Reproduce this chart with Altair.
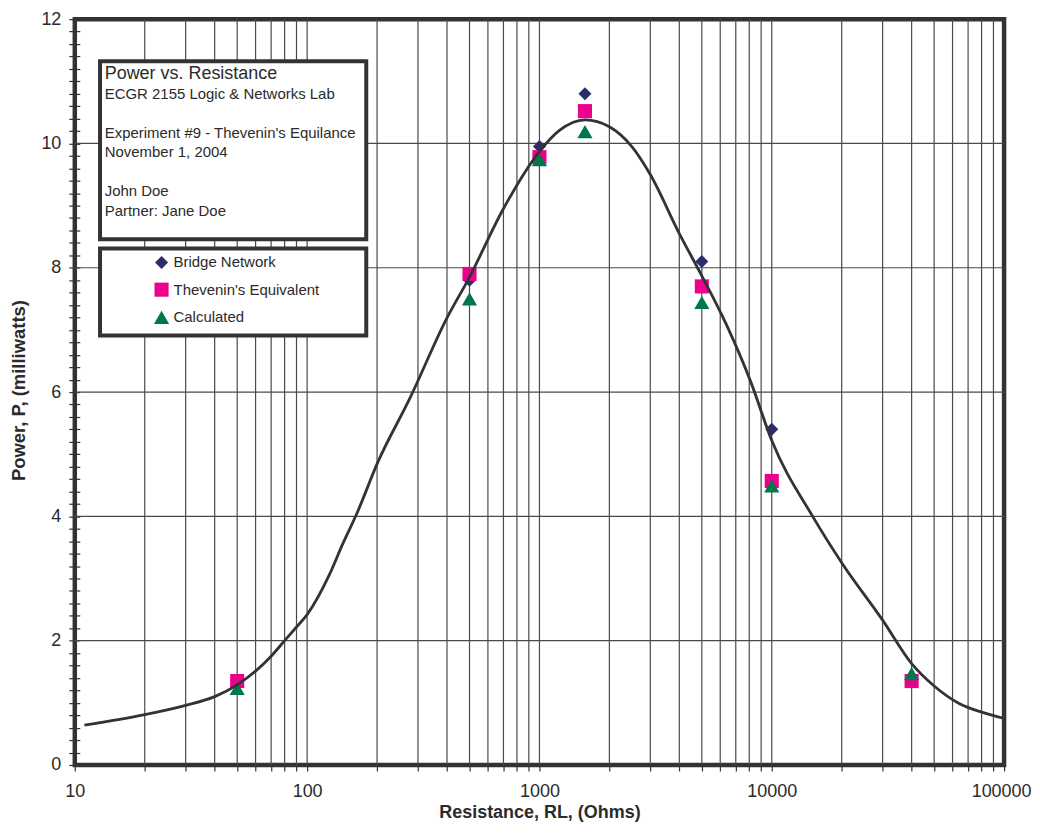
import altair as alt
import pandas as pd

# ---------------- data ----------------
resistance = [50, 500, 1000, 1570, 5000, 10000, 40000]
bridge_network = [1.30, 7.80, 9.95, 10.80, 8.10, 5.40, 1.40]
thevenin_equiv = [1.35, 7.90, 9.78, 10.52, 7.70, 4.57, 1.35]
calculated = [1.23, 7.50, 9.74, 10.19, 7.44, 4.49, 1.47]

series_names = ["Bridge Network", "Thevenin's Equivalent", "Calculated"]
series_colors = ["#2E2D6B", "#EC008C", "#00774A"]
series_shapes = ["diamond", "square", "triangle-up"]
series_sizes = [170, 230, 250]

curve_r = [11, 20, 30, 40, 50, 60, 70, 80, 90, 100, 125, 142, 163, 202, 276, 397,
           500, 695, 1000, 1219, 1572, 2000, 2500, 3000, 4000, 5000, 6350, 8130, 10000,
           15000, 20200, 30000, 40000, 50000, 64000, 80000, 100000]
curve_p = [0.64, 0.81, 0.96, 1.10, 1.29, 1.51, 1.75, 2.00, 2.22, 2.42, 3.07, 3.55,
           4.03, 4.88, 5.89, 7.17, 7.85, 8.93, 9.87, 10.21, 10.38, 10.27, 9.95, 9.50,
           8.55, 7.87, 7.10, 6.16, 5.22, 4.00, 3.23, 2.33, 1.63, 1.27, 0.99, 0.85, 0.75]

x_ticks = [10, 20, 30, 40, 50, 60, 70, 80, 90,
           100, 200, 300, 400, 500, 600, 700, 800, 900,
           1000, 2000, 3000, 4000, 5000, 6000, 7000, 8000, 9000,
           10000, 20000, 30000, 40000, 50000, 60000, 70000, 80000, 90000, 100000]
x_labels = [10, 100, 1000, 10000, 100000]
x_grid = [v for v in x_ticks if v not in (10, 100000)]
y_ticks = [0, 0.2, 0.4, 0.6, 0.8, 1, 1.2, 1.4, 1.6, 1.8, 2, 2.2, 2.4, 2.6, 2.8, 3,
           3.2, 3.4, 3.6, 3.8, 4, 4.2, 4.4, 4.6, 4.8, 5, 5.2, 5.4, 5.6, 5.8, 6,
           6.2, 6.4, 6.6, 6.8, 7, 7.2, 7.4, 7.6, 7.8, 8, 8.2, 8.4, 8.6, 8.8, 9,
           9.2, 9.4, 9.6, 9.8, 10, 10.2, 10.4, 10.6, 10.8, 11, 11.2, 11.4, 11.6, 11.8, 12]
y_grid = [2, 4, 6, 8, 10]

x_title = "Resistance, RL, (Ohms)"
y_title = "Power, P, (milliwatts)"
info_title = "Power vs. Resistance"
info_lines = ["ECGR 2155 Logic & Networks Lab", "",
              "Experiment #9 - Thevenin's Equilance", "November 1, 2004", "",
              "John Doe", "Partner: Jane Doe"]

FONT = "Liberation Sans"
INK = "#2b2b2b"

# ---------------- tables ----------------
pts = pd.DataFrame({
    "R": resistance * 3,
    "P": bridge_network + thevenin_equiv + calculated,
    "Series": [series_names[0]] * len(resistance)
              + [series_names[1]] * len(resistance)
              + [series_names[2]] * len(resistance),
})
curve = pd.DataFrame({"R": curve_r, "P": curve_p})
xg = pd.DataFrame({"R": x_grid})
yg = pd.DataFrame({"P": y_grid})

# ---------------- scales / axes ----------------
xs = alt.Scale(type="log", domain=[10, 100000], nice=False)
ys = alt.Scale(domain=[0, 12], nice=False, zero=True)

label_list = "[" + ",".join(str(v) for v in x_labels) + "]"
x_axis = alt.Axis(
    values=x_ticks,
    labelExpr=f"indexof({label_list}, datum.value) >= 0 ? format(datum.value, 'd') : ''",
    grid=False, domain=False,
    tickSize=6, tickColor="#333333", tickWidth=1.2,
    labelFont=FONT, labelFontSize=18, labelColor=INK,
    labelBaseline="alphabetic", labelPadding=26,
    labelOffset={"condition": {"test": "datum.value == 100000", "value": -3}, "value": 0},
    labelOverlap=False, labelFlush=False, labelBound=False,
    titleFont=FONT, titleFontSize=18, titleFontWeight="bold", titleColor=INK,
    titleBaseline="alphabetic", titleY=53,
)
y_axis = alt.Axis(
    values=y_ticks,
    labelExpr="round(datum.value * 5) % 10 == 0 ? format(datum.value, 'd') : ''",
    grid=False, domain=False, offset=-5,
    tickSize=11, tickColor="#333333", tickWidth=1.2,
    labelFont=FONT, labelFontSize=18, labelColor=INK, labelPadding=8,
    labelOverlap=False, labelFlush=False, labelBound=False,
    titleFont=FONT, titleFontSize=18.5, titleFontWeight="bold", titleColor=INK,
    titleBaseline="alphabetic", titleAlign="center", titleAngle=270,
    titleX=-55, titleY=372,
)

x_enc = alt.X("R:Q", scale=xs, axis=x_axis, title=x_title)
y_enc = alt.Y("P:Q", scale=ys, axis=y_axis, title=y_title)

# ---------------- layers ----------------
GRID = "#4a4a4a"
grid_x = alt.Chart(xg).mark_rule(color=GRID, strokeWidth=1.2).encode(x=x_enc)
grid_y = alt.Chart(yg).mark_rule(color=GRID, strokeWidth=1.2).encode(y=y_enc)

one = pd.DataFrame({"k": [0]})
info_box = alt.Chart(one).mark_rect(fill="white", stroke="#333333", strokeWidth=4).encode(
    x=alt.value(25.3), x2=alt.value(292.3), y=alt.value(42.3), y2=alt.value(220.7))
legend_box = alt.Chart(one).mark_rect(fill="white", stroke="#333333", strokeWidth=4).encode(
    x=alt.value(25.3), x2=alt.value(292.3), y=alt.value(230), y2=alt.value(317.3))

text_layers = [
    alt.Chart(pd.DataFrame({"t": [info_title]})).mark_text(
        font=FONT, fontSize=18, color=INK, align="left", baseline="alphabetic"
    ).encode(text="t:N", x=alt.value(30), y=alt.value(60.3))
]
for i, line in enumerate(info_lines):
    if not line:
        continue
    text_layers.append(
        alt.Chart(pd.DataFrame({"t": [line]})).mark_text(
            font=FONT, fontSize=15, color=INK, align="left", baseline="alphabetic"
        ).encode(text="t:N", x=alt.value(30), y=alt.value(79.7 + 19.6 * i))
    )

legend = alt.Legend(
    title=None, orient="none", direction="vertical", legendX=79, legendY=236.5,
    labelFont=FONT, labelFontSize=15, labelColor=INK, labelOffset=4,
    symbolSize=120, symbolStrokeWidth=0, rowPadding=11.3, padding=0,
)
points = alt.Chart(pts).mark_point(filled=True, opacity=1, strokeWidth=0).encode(
    x=x_enc, y=y_enc,
    color=alt.Color("Series:N", scale=alt.Scale(domain=series_names, range=series_colors),
                    legend=legend),
    shape=alt.Shape("Series:N", scale=alt.Scale(domain=series_names, range=series_shapes),
                    legend=legend),
    size=alt.Size("Series:N", scale=alt.Scale(domain=series_names, range=series_sizes),
                  legend=None),
)

line = alt.Chart(curve).mark_line(color="#333333", strokeWidth=2.8,
                                  interpolate="monotone").encode(x=x_enc, y=y_enc)

chart = alt.layer(
    grid_x, grid_y, info_box, legend_box, *text_layers, points, line
).properties(
    width=932, height=748,
    autosize=alt.AutoSizeParams(type="none"),
    padding={"left": 67, "top": 10, "right": 28, "bottom": 57},
    background="white",
).configure_view(
    stroke="#333333", strokeWidth=4.5
)

chart.save("out.html", embed_options={"renderer": "svg", "actions": False})
